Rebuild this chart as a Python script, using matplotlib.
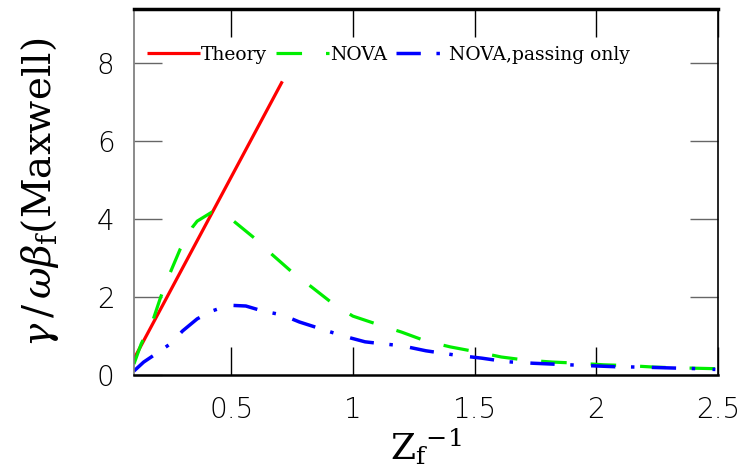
import matplotlib
matplotlib.use("Agg")
import matplotlib.pyplot as plt

theory_x = [0.10, 0.71]
theory_y = [0.41, 7.54]

nova_x = [0.10, 0.13, 0.18, 0.21, 0.25, 0.29, 0.34, 0.36, 0.42, 0.51, 0.60, 0.67, 0.75, 0.83, 0.92,
          1.00, 1.11, 1.20, 1.30, 1.40, 1.51, 1.61, 1.71, 1.82, 1.93, 2.03, 2.13, 2.24, 2.35, 2.49]
nova_y = [0.28, 0.80, 1.44, 2.00, 2.64, 3.23, 3.79, 3.95, 4.18, 3.95, 3.49, 3.08, 2.64, 2.26, 1.82,
          1.51, 1.28, 1.10, 0.87, 0.72, 0.59, 0.46, 0.38, 0.33, 0.30, 0.26, 0.24, 0.20, 0.18, 0.16]

pass_x = [0.10, 0.14, 0.19, 0.25, 0.30, 0.36, 0.42, 0.49, 0.56, 0.63, 0.71, 0.78, 0.86, 0.92, 0.99,
          1.05, 1.12, 1.20, 1.30, 1.42, 1.53, 1.63, 1.74, 1.85, 1.96, 2.08, 2.19, 2.30, 2.42, 2.49]
pass_y = [0.10, 0.33, 0.54, 0.80, 1.13, 1.44, 1.64, 1.79, 1.77, 1.64, 1.54, 1.36, 1.20, 1.08, 0.95,
          0.85, 0.80, 0.75, 0.62, 0.51, 0.43, 0.34, 0.30, 0.27, 0.24, 0.21, 0.20, 0.18, 0.16, 0.14]

x_ticks = [0.5, 1, 1.5, 2, 2.5]
x_ticklabels = ["0.5", "1", "1.5", "2", "2.5"]
y_ticks = [0, 2, 4, 6, 8]
y_ticklabels = ["0", "2", "4", "6", "8"]

plt.rcParams['mathtext.fontset'] = 'dejavuserif'

fig = plt.figure(figsize=(7.4, 4.71), dpi=100)
ax = fig.add_axes([0.181, 0.204, 0.789, 0.777])

ax.plot(theory_x, theory_y, color='#ff0000', lw=2.3, solid_capstyle='butt', label='Theory')
ax.plot(nova_x, nova_y, color='#00ee00', lw=2.3, dashes=(8, 7.5), label='NOVA')
ax.plot(pass_x, pass_y, color='#0000ff', lw=2.5, dashes=(7, 4.5, 1, 5), label='NOVA,passing only')

ax.set_xlim(0.1, 2.5)
ax.set_ylim(0, 9.4)
ax.set_xticks(x_ticks)
ax.set_xticklabels(x_ticklabels)
ax.set_yticks(y_ticks)
ax.set_yticklabels(y_ticklabels)

ax.tick_params(axis='both', which='major', direction='in', length=20, width=1.0,
               labelsize=20, top=True, right=True)
ax.tick_params(axis='y', colors='#666666', labelcolor='black', pad=14)
ax.tick_params(axis='x', colors='black', pad=15)
for lab in ax.get_xticklabels() + ax.get_yticklabels():
    lab.set_fontfamily('DejaVu Sans')
    lab.set_fontweight('light')

ax.spines['top'].set_linewidth(2.5)
ax.spines['top'].set_color('black')
ax.spines['bottom'].set_linewidth(1.8)
ax.spines['bottom'].set_color('black')
ax.spines['left'].set_linewidth(1.2)
ax.spines['left'].set_color('#777777')
ax.spines['right'].set_linewidth(1.2)
ax.spines['right'].set_color('black')

ax.set_ylabel(r'$\gamma\,/\,\omega\beta_{\rm f}$(Maxwell)', fontsize=28, family='DejaVu Serif', labelpad=26)
ax.set_xlabel(r'$\rm Z_f$$^{-1}$', fontsize=26, family='DejaVu Serif', labelpad=2)

leg = ax.legend(loc='center left', bbox_to_anchor=(0.01, 0.874), ncol=3, frameon=False,
                prop={'family': 'DejaVu Serif', 'size': 13.5}, handlelength=2.8,
                handletextpad=0.05, columnspacing=0.5, borderaxespad=0)

fig.savefig('out.png', dpi=100)
